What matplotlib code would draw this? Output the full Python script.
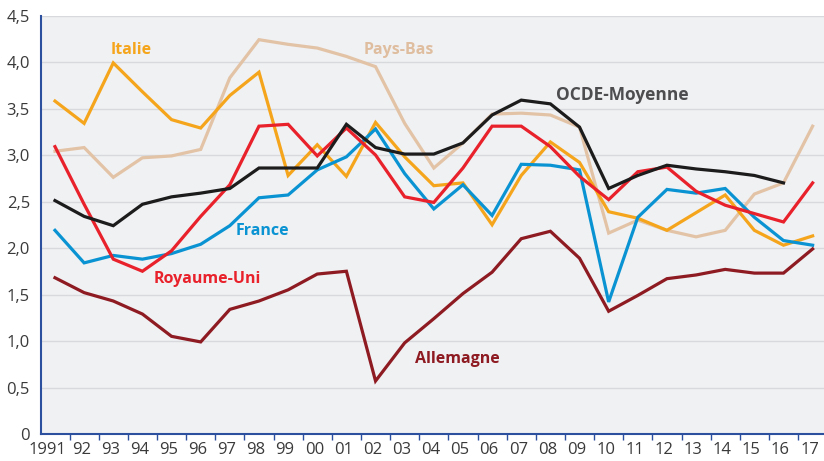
import matplotlib
matplotlib.use("Agg")
import matplotlib.pyplot as plt
from matplotlib.transforms import ScaledTranslation
import numpy as np

years = list(range(1991, 2018))
year_labels = ["1991"] + [f"{y % 100:02d}" for y in years[1:]]

italie = [3.58, 3.34, 3.99, 3.68, 3.38, 3.29, 3.64, 3.89, 2.78, 3.11, 2.77, 3.35, 2.98, 2.67,
          2.70, 2.25, 2.78, 3.14, 2.92, 2.39, 2.32, 2.19, 2.38, 2.57, 2.19, 2.03, 2.13]
pays_bas = [3.04, 3.08, 2.76, 2.97, 2.99, 3.06, 3.83, 4.24, 4.19, 4.15, 4.06, 3.95, 3.34, 2.86,
            3.13, 3.44, 3.45, 3.43, 3.30, 2.16, 2.30, 2.19, 2.12, 2.19, 2.58, 2.70, 3.31]
ocde = [2.51, 2.34, 2.24, 2.47, 2.55, 2.59, 2.64, 2.86, 2.86, 2.86, 3.33, 3.08, 3.01, 3.01,
        3.13, 3.43, 3.59, 3.55, 3.30, 2.64, 2.78, 2.89, 2.85, 2.82, 2.78, 2.70, np.nan]
royaume_uni = [3.09, 2.47, 1.88, 1.75, 1.97, 2.34, 2.68, 3.31, 3.33, 2.99, 3.29, 3.00, 2.55, 2.49,
               2.86, 3.31, 3.31, 3.09, 2.77, 2.52, 2.82, 2.87, 2.61, 2.46, 2.37, 2.28, 2.70]
france = [2.19, 1.84, 1.92, 1.88, 1.94, 2.04, 2.24, 2.54, 2.57, 2.84, 2.98, 3.28, 2.80, 2.42,
          2.68, 2.35, 2.90, 2.89, 2.84, 1.42, 2.33, 2.63, 2.59, 2.64, 2.33, 2.08, 2.03]
allemagne = [1.68, 1.52, 1.43, 1.29, 1.05, 0.99, 1.34, 1.43, 1.55, 1.72, 1.75, 0.57, 0.98, 1.24,
             1.51, 1.74, 2.10, 2.18, 1.89, 1.32, 1.49, 1.67, 1.71, 1.77, 1.73, 1.73, 1.99]

series = [
    ("Pays-Bas", pays_bas, "#e3c3a6", (2002.8, 4.13)),
    ("Italie", italie, "#f5a51c", (1993.6, 4.13)),
    ("France", france, "#0a93d3", (1998.12, 2.18)),
    ("Allemagne", allemagne, "#8e1b22", (2004.82, 0.81)),
    ("Royaume-Uni", royaume_uni, "#e8212b", (1996.23, 1.67)),
    ("OCDE-Moyenne", ocde, "#1c1c1c", (2010.47, 3.64)),
]
label_colors = {"OCDE-Moyenne": "#4d4d4f", "Pays-Bas": "#dfbd9f"}

plt.rcParams["font.family"] = ["Open Sans", "DejaVu Sans"]

fig = plt.figure(figsize=(8.24, 4.61), dpi=100)
ax = fig.add_axes([41 / 824, 27 / 461, 1 - 41 / 824, 418.5 / 461])
ax.set_facecolor("#f0f1f3")

for name, vals, color, (lx, ly) in series:
    ax.plot(years, vals, color=color, lw=2.3, solid_joinstyle="miter", zorder=3)
    fs = 12.5 if name == "OCDE-Moyenne" else 11.5
    ax.text(lx, ly, name, color=label_colors.get(name, color), fontsize=fs,
            fontweight="bold", ha="center", va="center", zorder=4)

ax.set_ylim(0, 4.5)
ax.set_xlim(1990.52, 2017.39)
yt = np.arange(0, 4.51, 0.5)
ax.set_yticks(yt)
ax.set_yticklabels(["0"] + [f"{v:.1f}".replace(".", ",") for v in yt[1:]])
ax.yaxis.grid(True, color="#d8d9dc", lw=1.0, zorder=1)
ax.set_axisbelow(True)
ax.tick_params(axis="y", length=0, pad=8, labelsize=12, labelcolor="#3a3a3a")

ax.set_xticks(years)
ax.set_xticklabels(year_labels)
ax.set_xticks(np.arange(1991.5, 2017, 1), minor=True)
ax.tick_params(axis="x", which="major", length=0, pad=6, labelsize=12, labelcolor="#3a3a3a")
ax.tick_params(axis="x", which="minor", length=4, width=1.0, color="#2c4f9e", direction="out")
shift = ScaledTranslation(-3 / 100, 0, fig.dpi_scale_trans)
for i, lab in enumerate(ax.get_xticklabels()):
    lab.set_transform(lab.get_transform() + (ScaledTranslation(-8 / 100, 0, fig.dpi_scale_trans) if i == 0 else shift))

for side in ("top", "right"):
    ax.spines[side].set_visible(False)
for side in ("left", "bottom"):
    ax.spines[side].set_color("#2c4f9e")
    ax.spines[side].set_linewidth(1.5)

fig.savefig("out.png", dpi=100)
